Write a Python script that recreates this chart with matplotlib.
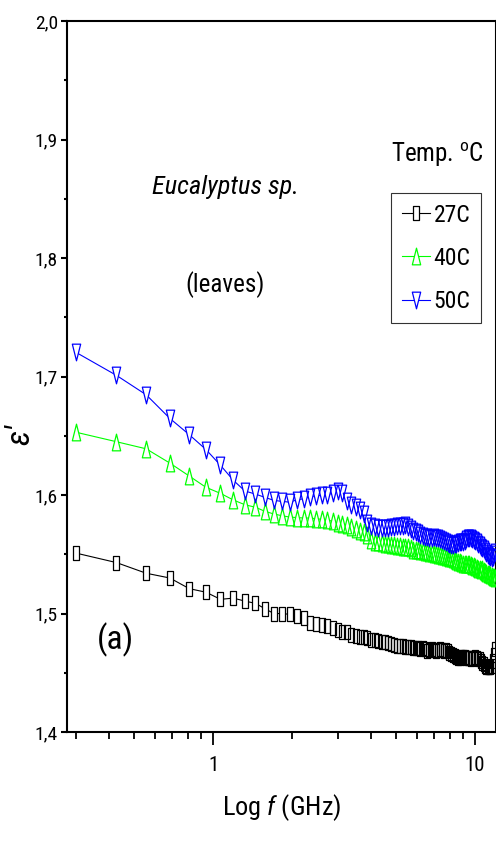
import numpy as np
import matplotlib
matplotlib.use('Agg')
import matplotlib.pyplot as plt
import matplotlib.ticker as mticker
from matplotlib.path import Path
from matplotlib.lines import Line2D
from matplotlib import font_manager

# pick a condensed sans face if one is installed
narrow_stretch = ('condensed', 'semi-condensed', 'extra-condensed', 'ultra-condensed', 100, 75, 87, 62, 50)
faces = [f for f in font_manager.fontManager.ttflist
         if (f.stretch in narrow_stretch or 'Narrow' in f.name or 'Condensed' in f.name)
         and f.style == 'normal']
prefer = ['Liberation Sans Narrow', 'Roboto Condensed', 'Open Sans Condensed', 'Noto Sans',
          'Open Sans', 'Roboto', 'DejaVu Sans']
face = None
for p in prefer:
    hits = [f for f in faces if f.name == p]
    if hits:
        face = hits[0]
        break
if face is None and faces:
    face = faces[0]
if face is not None:
    font_name = face.name
    plt.rcParams['font.stretch'] = face.stretch
else:
    font_name = 'Liberation Sans'
plt.rcParams['font.family'] = [font_name, 'DejaVu Sans']
plt.rcParams['mathtext.fontset'] = 'custom'
plt.rcParams['mathtext.rm'] = font_name
plt.rcParams['mathtext.it'] = font_name + ':italic'

# frequency sweep (GHz)
freq = np.linspace(0.3, 11.948, 92)

eps_27C = [1.551, 1.543, 1.534, 1.530, 1.521, 1.518, 1.512, 1.513, 1.5105, 1.5086,
           1.504, 1.500, 1.500, 1.4993, 1.498, 1.4965, 1.4922, 1.491, 1.490, 1.4897,
           1.4875, 1.486, 1.484, 1.4846, 1.4820, 1.4812, 1.4805, 1.4798, 1.4790, 1.4780,
           1.4774, 1.4768, 1.4762, 1.4758, 1.4748, 1.4740, 1.4734, 1.4730, 1.4728, 1.4724,
           1.4721, 1.4719, 1.4714, 1.4711, 1.4708, 1.4706, 1.4703, 1.4712, 1.4700, 1.4688,
           1.4692, 1.4702, 1.4690, 1.4682, 1.4695, 1.4700, 1.4692, 1.4684, 1.4690, 1.4680,
           1.4666, 1.4655, 1.4648, 1.4640, 1.4634, 1.4628, 1.4626, 1.4632, 1.4636, 1.4630,
           1.4625, 1.4628, 1.4622, 1.4618, 1.4622, 1.4625, 1.4630, 1.4626, 1.4620, 1.4616,
           1.4600, 1.4585, 1.4572, 1.4560, 1.4552, 1.4548, 1.4545, 1.4548, 1.4560, 1.4600,
           1.4650, 1.4700]

eps_40C = [1.653, 1.645, 1.639, 1.627, 1.616, 1.6065, 1.6014, 1.5958, 1.5918, 1.5897,
           1.5862, 1.5840, 1.5825, 1.5814, 1.5810, 1.5806, 1.5806, 1.5800, 1.5795, 1.5790,
           1.5778, 1.5765, 1.5758, 1.5745, 1.5730, 1.5716, 1.5700, 1.5688, 1.5660, 1.5620,
           1.5605, 1.5600, 1.5595, 1.5590, 1.5585, 1.5578, 1.5575, 1.5572, 1.5568, 1.5565,
           1.5562, 1.5558, 1.5550, 1.5540, 1.5535, 1.5532, 1.5528, 1.5524, 1.5520, 1.5516,
           1.5512, 1.5508, 1.5505, 1.5500, 1.5496, 1.5494, 1.5488, 1.5485, 1.5480, 1.5475,
           1.5470, 1.5466, 1.5462, 1.5450, 1.5440, 1.5435, 1.5432, 1.5428, 1.5420, 1.5418,
           1.5420, 1.5418, 1.5415, 1.5410, 1.5405, 1.5400, 1.5392, 1.5385, 1.5378, 1.5372,
           1.5365, 1.5372, 1.5360, 1.5350, 1.5342, 1.5336, 1.5330, 1.5325, 1.5318, 1.5312,
           1.5305, 1.5300]

eps_50C = [1.7204, 1.7010, 1.6846, 1.6647, 1.6509, 1.6384, 1.6251, 1.6124, 1.6034, 1.6008,
           1.5980, 1.5955, 1.5946, 1.5940, 1.5960, 1.5969, 1.5985, 1.5995, 1.5997, 1.6003,
           1.6015, 1.6031, 1.6017, 1.5952, 1.5915, 1.5895, 1.5870, 1.5840, 1.5760, 1.5735,
           1.5730, 1.5722, 1.5718, 1.5720, 1.5725, 1.5730, 1.5732, 1.5736, 1.5738, 1.5740,
           1.5744, 1.5730, 1.5715, 1.5700, 1.5690, 1.5680, 1.5665, 1.5655, 1.5650, 1.5645,
           1.5640, 1.5640, 1.5642, 1.5640, 1.5638, 1.5630, 1.5620, 1.5612, 1.5605, 1.5595,
           1.5588, 1.5582, 1.5580, 1.5585, 1.5590, 1.5598, 1.5605, 1.5600, 1.5605, 1.5615,
           1.5625, 1.5635, 1.5640, 1.5637, 1.5630, 1.5620, 1.5610, 1.5600, 1.5590, 1.5575,
           1.5565, 1.5555, 1.5545, 1.5530, 1.5510, 1.5497, 1.5485, 1.5475, 1.5470, 1.5480,
           1.5500, 1.5520]

labels = ['27C', '40C', '50C']
colors = ['black', '#00ff00', '#0000ff']

# tall open markers
sq = Path([(-0.5, -1), (0.5, -1), (0.5, 1), (-0.5, 1), (-0.5, -1)],
          [Path.MOVETO, Path.LINETO, Path.LINETO, Path.LINETO, Path.CLOSEPOLY])
tri_up = Path([(0, 1), (-0.5, -1), (0.5, -1), (0, 1)],
              [Path.MOVETO, Path.LINETO, Path.LINETO, Path.CLOSEPOLY])
tri_dn = Path([(0, -1), (-0.5, 1), (0.5, 1), (0, -1)],
              [Path.MOVETO, Path.LINETO, Path.LINETO, Path.CLOSEPOLY])
markers = [sq, tri_up, tri_dn]
msizes = [10, 12, 12]

fig = plt.figure(figsize=(4.96, 8.52), dpi=100)
ax = fig.add_axes([0.1351, 0.1408, 0.8639, 0.8345])

series = [eps_27C, eps_40C, eps_50C]
# lines with white knock-outs under the markers, then open marker outlines on top
for y, c, m, s in zip(series, colors, markers, msizes):
    ax.plot(freq, y, color=c, lw=0.8, marker=m, ms=s, mfc='white', mew=0, zorder=2)
for y, c, m, s in zip(series, colors, markers, msizes):
    ax.plot(freq, y, ls='none', marker=m, ms=s, mfc='none', mec=c, mew=0.9, zorder=3)

ax.set_xscale('log')
ax.set_xlim(0.2772, 11.97)
ax.set_ylim(1.4, 2.0)

ax.yaxis.set_major_locator(mticker.MultipleLocator(0.1))
ax.yaxis.set_minor_locator(mticker.MultipleLocator(0.05))
ax.yaxis.set_major_formatter(mticker.FuncFormatter(lambda v, p: f'{v:.1f}'.replace('.', ',')))
ax.xaxis.set_major_locator(mticker.FixedLocator([1, 10]))
ax.xaxis.set_major_formatter(mticker.FuncFormatter(lambda v, p: f'{v:g}'))
ax.xaxis.set_minor_locator(mticker.LogLocator(base=10, subs=np.arange(2, 10)))
ax.xaxis.set_minor_formatter(mticker.NullFormatter())

for sp in ax.spines.values():
    sp.set_linewidth(1.5)
ax.tick_params(axis='x', which='major', direction='out', length=9.5, width=1.3, labelsize=15, pad=8)
ax.tick_params(axis='x', which='minor', direction='out', length=5, width=1.3)
ax.tick_params(axis='y', which='major', direction='out', length=4.5, width=1.5, labelsize=14, pad=2)
ax.tick_params(axis='y', which='minor', direction='out', length=2.3, width=1.5)

ax.set_xlabel('Log $\\it{f}$ (GHz)', fontsize=19, labelpad=12)
fig.text(0.04, 0.49, "ε'", fontsize=24, style='italic', rotation=90, ha='center', va='center')

fig.text(225 / 496, 1 - 187 / 852, 'Eucalyptus sp.', fontsize=19, style='italic', ha='center', va='center')
fig.text(225 / 496, 1 - 285 / 852, '(leaves)', fontsize=18, ha='center', va='center')
fig.text(437 / 496, 1 - 155 / 852, 'Temp. $^{\\rm o}$C', fontsize=18, ha='center', va='center')
fig.text(115 / 496, 1 - 640 / 852, '(a)', fontsize=24, ha='center', va='center')

handles = [Line2D([0], [0], color=c, lw=0.8, marker=m, ms=s, mfc='white', mec=c, mew=0.9)
           for c, m, s in zip(colors, markers, msizes)]
leg = ax.legend(handles, labels, loc='upper left', bbox_to_anchor=(391 / 496, 1 - 193 / 852),
                bbox_transform=fig.transFigure, fontsize=17, frameon=True, fancybox=False,
                borderaxespad=0, borderpad=0.45, handlelength=1.2, handletextpad=0.15,
                labelspacing=0.85)
leg.get_frame().set_edgecolor('black')
leg.get_frame().set_linewidth(0.8)

fig.savefig('out.png', dpi=100)
